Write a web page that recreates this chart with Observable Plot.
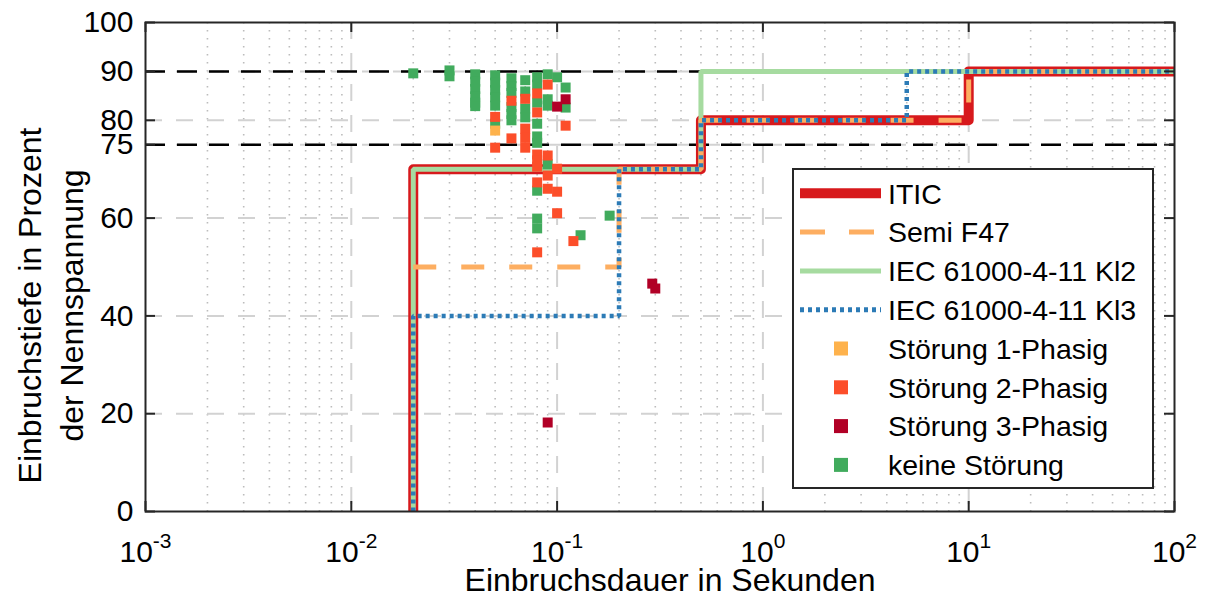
<!DOCTYPE html>
<html><head><meta charset="utf-8">
<script src="https://cdn.jsdelivr.net/npm/d3@7"></script>
<script src="https://cdn.jsdelivr.net/npm/@observablehq/plot@0.6"></script>
<style>
html,body{margin:0;padding:0;background:#fff;overflow:hidden;}
#wrap{position:relative;width:1207px;height:601px;}
</style></head><body><div id="wrap"></div>
<script>
// ---------- data ----------
const xMajor = [1e-3, 1e-2, 1e-1, 1e0, 1e1, 1e2];
const xExponents = ["-3", "-2", "-1", "0", "1", "2"];
const xMinorMantissa = [2, 3, 4, 5, 6, 7, 8, 9];
const xMinorDecades = [1e-3, 1e-2, 1e-1, 1e0, 1e1];
const yTicks = [0, 20, 40, 60, 75, 80, 90, 100];
const limitLines = [75, 90];

const xTitle = "Einbruchsdauer in Sekunden";
const yTitle = "Einbruchstiefe in Prozent\nder Nennspannung";

// curves (Dauer in s, Tiefe in %)
const iticDauer = [0.02, 0.02, 0.5, 0.5, 10, 10, 100];
const iticTiefe = [0, 70, 70, 80, 80, 90, 90];
const semiDauer = [0.02, 0.2, 0.2, 0.5, 0.5, 10, 10, 100];
const semiTiefe = [50, 50, 70, 70, 80, 80, 90, 90];
const kl2Dauer = [0.02, 0.02, 0.5, 0.5, 100];
const kl2Tiefe = [0, 70, 70, 90, 90];
const kl3Dauer = [0.02, 0.02, 0.2, 0.2, 0.5, 0.5, 5, 5, 100];
const kl3Tiefe = [0, 40, 40, 70, 70, 80, 80, 90, 90];

// measured events [Dauer, Tiefe]
const keineStoerung = [
  [0.02, 89.6],
  [0.03, 90.2], [0.03, 89.0],
  [0.04, 89.4], [0.04, 87.9], [0.04, 86.4], [0.04, 84.9], [0.04, 83.6], [0.04, 82.9],
  [0.05, 89.2], [0.05, 87.7], [0.05, 86.2], [0.05, 84.7], [0.05, 83.0], [0.05, 79.3],
  [0.06, 88.6], [0.06, 87.0], [0.06, 85.6], [0.06, 82.7], [0.06, 81.3], [0.06, 80.0],
  [0.07, 88.2], [0.07, 85.9], [0.07, 82.4], [0.07, 80.6],
  [0.08, 88.8], [0.08, 87.3], [0.08, 83.6], [0.08, 79.3], [0.08, 76.7], [0.08, 75.4],
  [0.08, 65.6], [0.08, 59.9], [0.08, 57.9],
  [0.09, 89.4], [0.09, 84.3], [0.09, 83.0], [0.09, 71.0],
  [0.1, 88.8],
  [0.11, 86.7], [0.11, 82.6],
  [0.13, 56.5], [0.18, 60.5]
];
const stoerung1 = [[0.05, 77.9]];
const stoerung2 = [
  [0.05, 80.7], [0.05, 74.4],
  [0.06, 84.0], [0.06, 76.3],
  [0.07, 84.4], [0.07, 78.3], [0.07, 76.4], [0.07, 74.4],
  [0.08, 85.5], [0.08, 81.6], [0.08, 73.0], [0.08, 71.8], [0.08, 70.5], [0.08, 67.3], [0.08, 53.0],
  [0.09, 87.3], [0.09, 72.8], [0.09, 68.7], [0.09, 66.0],
  [0.1, 70.1], [0.1, 65.4], [0.1, 61.0],
  [0.11, 78.9], [0.12, 55.3]
];
const stoerung3 = [[0.1, 82.8], [0.11, 84.3], [0.09, 18.2], [0.29, 46.6], [0.3, 45.6]];

// ---------- styles ----------
const C = {
  itic: "#d7191c", semi: "#fdae61", kl2: "#a6dba0", kl3: "#2c7bb6",
  s1: "#feb24c", s2: "#fc4e2a", s3: "#b10026", keine: "#41ab5d"
};
const FONT = "'Liberation Sans', Arial, Helvetica, sans-serif";
const W = 1207, H = 601, mL = 145, mR = 33, mT = 22, mB = 90;
const fw = W - mL - mR, fh = H - mT - mB;

const xMinor = xMinorDecades.flatMap(d => xMinorMantissa.map(m => m * d));
const toPts = (xs, ys) => xs.map((x, i) => ({x, y: ys[i]}));
const toObj = arr => arr.map(([x, y]) => ({x, y}));
const grid = {stroke: "#d2d2d2", strokeWidth: 2, strokeDasharray: "17,14"};
const tick = {stroke: "#262626", strokeWidth: 2};
const sqR = 10 / Math.sqrt(Math.PI);

const svg = Plot.plot({
  width: W, height: H,
  marginLeft: mL, marginRight: mR, marginTop: mT, marginBottom: mB,
  style: {fontFamily: FONT, background: "white", color: "black"},
  x: {type: "log", domain: [1e-3, 1e2]},
  y: {domain: [0, 100]},
  marks: [
    Plot.ruleX(xMinor, {x: d => d, stroke: "#bcbcbc", strokeWidth: 1.6, strokeDasharray: "1.6,6.4"}),
    Plot.ruleX(xMajor.slice(1, -1), {x: d => d, ...grid}),
    Plot.ruleY(yTicks.slice(1, -1), {y: d => d, ...grid}),
    Plot.ruleY(limitLines, {y: d => d, stroke: "#000", strokeWidth: 2.5, strokeDasharray: "20,12"}),
    Plot.line(toPts(iticDauer, iticTiefe), {x: "x", y: "y", stroke: C.itic, strokeWidth: 10, strokeLinejoin: "round", clip: true}),
    Plot.line(toPts(kl2Dauer, kl2Tiefe), {x: "x", y: "y", stroke: C.kl2, strokeWidth: 5, strokeLinejoin: "miter", strokeLinecap: "butt", clip: true}),
    Plot.line(toPts(semiDauer, semiTiefe), {x: "x", y: "y", stroke: C.semi, strokeWidth: 5, strokeDasharray: "23,25", strokeLinecap: "butt", strokeLinejoin: "miter", clip: true}),
    Plot.line(toPts(kl3Dauer, kl3Tiefe), {x: "x", y: "y", stroke: C.kl3, strokeWidth: 4.5, strokeDasharray: "4,4", strokeLinecap: "butt", strokeLinejoin: "miter", clip: true}),
    Plot.dot(toObj(keineStoerung), {x: "x", y: "y", symbol: "square", r: sqR, fill: C.keine, stroke: null}),
    Plot.dot(toObj(stoerung1), {x: "x", y: "y", symbol: "square", r: sqR, fill: C.s1, stroke: null}),
    Plot.dot(toObj(stoerung2), {x: "x", y: "y", symbol: "square", r: sqR, fill: C.s2, stroke: null}),
    Plot.dot(toObj(stoerung3), {x: "x", y: "y", symbol: "square", r: sqR, fill: C.s3, stroke: null}),
    Plot.frame({stroke: "#262626", strokeWidth: 2}),
    Plot.ruleX(xMajor, {x: d => d, insetTop: fh - 10, ...tick}),
    Plot.ruleX(xMajor, {x: d => d, insetBottom: fh - 10, ...tick}),
    Plot.ruleY(yTicks, {y: d => d, insetRight: fw - 10, ...tick}),
    Plot.ruleY(yTicks, {y: d => d, insetLeft: fw - 10, ...tick}),
    Plot.axisX({ticks: xMajor, tickSize: 0, tickPadding: 29, fontSize: 30, label: null,
      tickFormat: d => "10^" + xExponents[xMajor.indexOf(d)]}),
    Plot.axisY({ticks: yTicks, tickSize: 0, tickPadding: 12, fontSize: 30, label: null,
      tickFormat: d => String(d)}),
    Plot.text([yTitle], {frameAnchor: "left", text: d => d, rotate: -90, dx: -97, dy: 38.5,
      fontSize: 32, lineHeight: 1.3, textAnchor: "middle", lineAnchor: "middle", fill: "#000"}),
    Plot.text([xTitle], {frameAnchor: "bottom", text: d => d, dx: 10, dy: 69,
      fontSize: 32, textAnchor: "middle", lineAnchor: "middle", fill: "#000"})
  ]
});

// superscript exponents on log-axis labels
d3.select(svg).selectAll('g[aria-label="x-axis tick label"] text').each(function () {
  const t = d3.select(this);
  const s = t.text();
  if (!s.includes("^")) return;
  const [base, exp] = s.split("^");
  t.text(base);
  t.append("tspan").attr("dy", -14).attr("font-size", 21).text(exp);
});

// legend inside the axes
const legendItems = [
  {label: "ITIC", kind: "line", color: C.itic, width: 10},
  {label: "Semi F47", kind: "line", color: C.semi, width: 5, dash: "25,24"},
  {label: "IEC 61000-4-11 Kl2", kind: "line", color: C.kl2, width: 5},
  {label: "IEC 61000-4-11 Kl3", kind: "line", color: C.kl3, width: 5, dash: "4,4"},
  {label: "Störung 1-Phasig", kind: "square", color: C.s1},
  {label: "Störung 2-Phasig", kind: "square", color: C.s2},
  {label: "Störung 3-Phasig", kind: "square", color: C.s3},
  {label: "keine Störung", kind: "square", color: C.keine}
];
const lg = d3.select(svg).append("g").attr("transform", "translate(793,169)");
lg.append("rect").attr("width", 360).attr("height", 319)
  .attr("fill", "#fff").attr("stroke", "#262626").attr("stroke-width", 2);
legendItems.forEach((it, i) => {
  const cy = 24.3 + 38.8 * i;
  if (it.kind === "line") {
    lg.append("line").attr("x1", 7).attr("x2", 88).attr("y1", cy).attr("y2", cy)
      .attr("stroke", it.color).attr("stroke-width", it.width)
      .attr("stroke-linecap", "butt")
      .attr("stroke-dasharray", it.dash || null);
  } else {
    lg.append("rect").attr("x", 41).attr("y", cy - 7).attr("width", 14).attr("height", 14)
      .attr("fill", it.color);
  }
  lg.append("text").attr("x", 95).attr("y", cy + 10.2)
    .attr("text-anchor", "start")
    .attr("font-family", FONT).attr("font-size", 28.5).attr("fill", "#000")
    .text(it.label);
});

document.getElementById("wrap").appendChild(svg);
</script>
</body></html>
